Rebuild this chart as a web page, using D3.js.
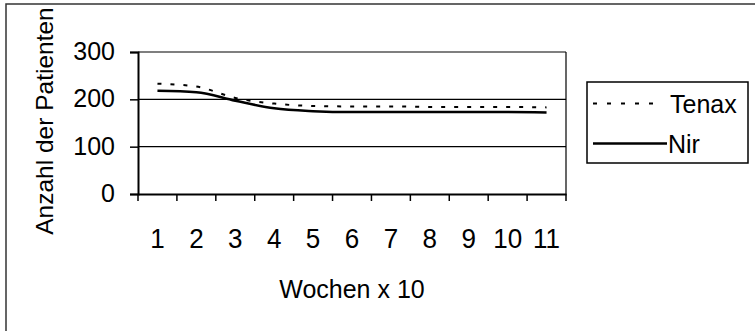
<!DOCTYPE html>
<html>
<head>
<meta charset="utf-8">
<script src="https://cdn.jsdelivr.net/npm/d3@7"></script>
<style>
  body { margin: 0; background: #fff; overflow: hidden; }
  svg { display: block; font-family: "Liberation Sans", Arial, sans-serif; }
</style>
</head>
<body>
<div class="graph"></div>
<script>
// chart data
const weeks = ["1", "2", "3", "4", "5", "6", "7", "8", "9", "10", "11"];
const tenax = [233, 227, 203, 191, 186, 185, 185, 184, 184, 184, 183];
const nir = [218, 215, 197, 181, 175, 173, 173, 173, 173, 173, 172];
const yTicks = [0, 100, 200, 300];
const seriesNames = ["Tenax", "Nir"];

const width = 755;
const height = 331;
const plot = { left: 138, right: 566, top: 52, bottom: 194 };

const svg = d3
  .select(".graph")
  .append("svg")
  .attr("width", width)
  .attr("height", height)
  .attr("viewBox", [0, 0, width, height]);

// outer chart frame: only the left and top edges show in the scan
svg
  .append("path")
  .attr("d", `M6,${height}V4H${width}`)
  .attr("fill", "none")
  .attr("stroke", "#333")
  .attr("stroke-width", 1.5);

const x = d3.scaleBand().domain(weeks).range([plot.left, plot.right]).padding(0);
const y = d3.scaleLinear().domain([0, 300]).range([plot.bottom, plot.top]);

// gridlines
svg
  .append("g")
  .selectAll()
  .data(yTicks.filter((d) => d > 0))
  .join("line")
  .attr("x1", plot.left)
  .attr("x2", plot.right)
  .attr("y1", (d) => y(d))
  .attr("y2", (d) => y(d))
  .attr("stroke", "#000")
  .attr("stroke-width", 1.2);

// right border of the plot area
svg
  .append("line")
  .attr("x1", plot.right)
  .attr("x2", plot.right)
  .attr("y1", plot.top)
  .attr("y2", plot.bottom)
  .attr("stroke", "#000")
  .attr("stroke-width", 1.2);

// y axis
const yAxis = svg
  .append("g")
  .attr("transform", `translate(${plot.left},0)`)
  .call(d3.axisLeft(y).tickValues(yTicks).tickSize(8).tickPadding(15));
yAxis.select(".domain").attr("stroke-width", 2);
yAxis.selectAll(".tick line").attr("stroke-width", 1.5);
yAxis
  .selectAll(".tick text")
  .attr("font-size", 25)
  .attr("font-family", "Liberation Sans, Arial, sans-serif")
  .attr("fill", "#000")
  .attr("dy", "0.3em");

// x axis: labels at band centres, ticks at band edges
const xAxis = svg
  .append("g")
  .attr("transform", `translate(0,${plot.bottom})`)
  .call(d3.axisBottom(x).tickSize(0).tickPadding(54).tickSizeOuter(0));
xAxis.select(".domain").attr("stroke-width", 2);
xAxis
  .selectAll(".tick text")
  .attr("font-size", 28)
  .attr("font-family", "Liberation Sans, Arial, sans-serif")
  .attr("fill", "#000")
  .attr("dy", 0)
  .attr("transform", "scale(0.93,1)");

const edges = weeks.map((w) => x(w)).concat([x(weeks[weeks.length - 1]) + x.bandwidth()]);
svg
  .append("g")
  .selectAll()
  .data(edges)
  .join("line")
  .attr("x1", (d) => d)
  .attr("x2", (d) => d)
  .attr("y1", plot.bottom)
  .attr("y2", plot.bottom + 7)
  .attr("stroke", "#000")
  .attr("stroke-width", 1.5);

// axis titles
svg
  .append("text")
  .attr("x", (plot.left + plot.right) / 2)
  .attr("y", 298)
  .attr("text-anchor", "middle")
  .attr("font-size", 25)
  .text("Wochen x 10");

svg
  .append("text")
  .attr("transform", "translate(53,121) rotate(-90)")
  .attr("text-anchor", "middle")
  .attr("font-size", 24.5)
  .text("Anzahl der Patienten");

// lines
const line = d3
  .line()
  .x((d, i) => x(weeks[i]) + x.bandwidth() / 2)
  .y((d) => y(d))
  .curve(d3.curveMonotoneX);

svg
  .append("path")
  .datum(tenax)
  .attr("fill", "none")
  .attr("stroke", "#000")
  .attr("stroke-width", 2)
  .attr("stroke-dasharray", "4,9")
  .attr("d", line);

svg
  .append("path")
  .datum(nir)
  .attr("fill", "none")
  .attr("stroke", "#000")
  .attr("stroke-width", 2.5)
  .attr("d", line);

// legend
const legend = svg.append("g");
legend
  .append("rect")
  .attr("x", 587)
  .attr("y", 82)
  .attr("width", 161)
  .attr("height", 81)
  .attr("fill", "#fff")
  .attr("stroke", "#000")
  .attr("stroke-width", 1.5);

const legendRows = legend
  .selectAll("g")
  .data(seriesNames)
  .join("g")
  .attr("transform", (d, i) => `translate(0,${i * 40})`);

legendRows
  .append("line")
  .attr("x1", 593)
  .attr("x2", (d, i) => (i === 0 ? 658 : 667))
  .attr("y1", 103.5)
  .attr("y2", 103.5)
  .attr("stroke", "#000")
  .attr("stroke-width", (d, i) => (i === 0 ? 2 : 2.5))
  .attr("stroke-dasharray", (d, i) => (i === 0 ? "4,10" : null));

legendRows
  .append("text")
  .attr("x", (d, i) => (i === 0 ? 670 : 668))
  .attr("y", 113)
  .attr("font-size", 25)
  .text((d) => d);
</script>
</body>
</html>
